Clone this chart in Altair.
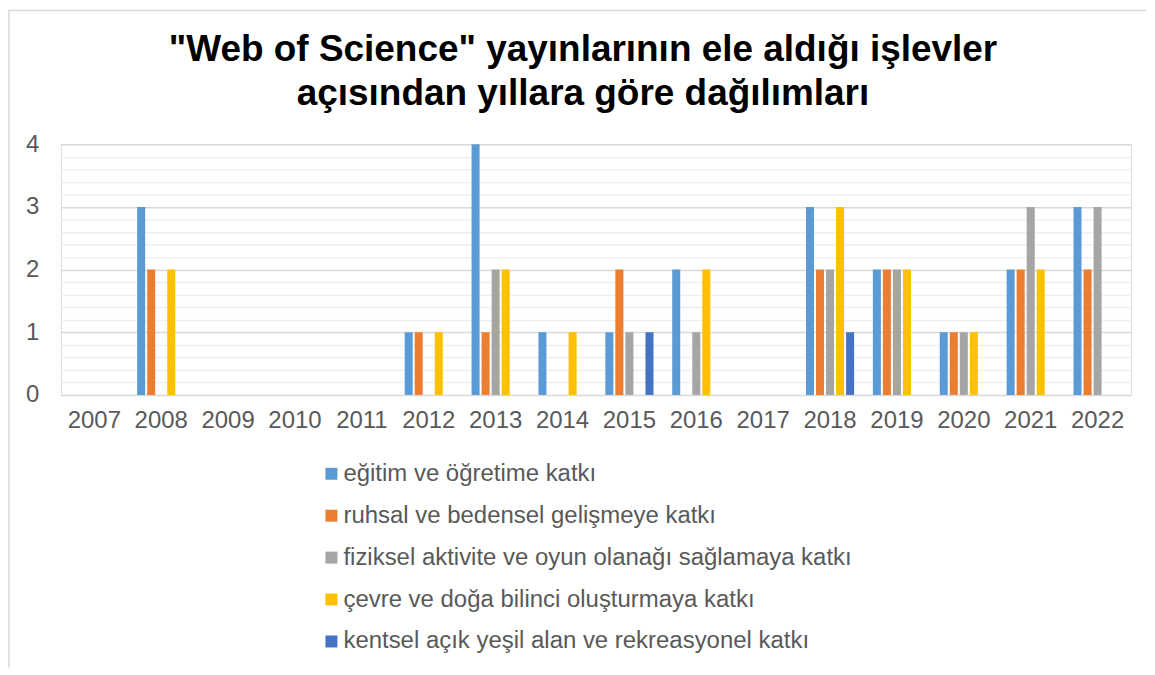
import altair as alt
import pandas as pd

years = [str(y) for y in range(2007, 2023)]
series = [
    "eğitim ve öğretime katkı",
    "ruhsal ve bedensel gelişmeye katkı",
    "fiziksel aktivite ve oyun olanağı sağlamaya katkı",
    "çevre ve doğa bilinci oluşturmaya katkı",
    "kentsel açık yeşil alan ve rekreasyonel katkı",
]
colors = ["#5B9BD5", "#ED7D31", "#A5A5A5", "#FFC000", "#4472C4"]

egitim =    [0, 3, 0, 0, 0, 1, 4, 1, 1, 2, 0, 3, 2, 1, 2, 3]
ruhsal =    [0, 2, 0, 0, 0, 1, 1, 0, 2, 0, 0, 2, 2, 1, 2, 2]
fiziksel =  [0, 0, 0, 0, 0, 0, 2, 0, 1, 1, 0, 2, 2, 1, 3, 3]
cevre =     [0, 2, 0, 0, 0, 1, 2, 1, 0, 2, 0, 3, 2, 1, 2, 0]
kentsel =   [0, 0, 0, 0, 0, 0, 0, 0, 1, 0, 0, 1, 0, 0, 0, 0]

title_lines = ['"Web of Science" yayınlarının ele aldığı işlevler',
               "açısından yıllara göre dağılımları"]

rows = []
for name, vals in zip(series, [egitim, ruhsal, fiziksel, cevre, kentsel]):
    for y, v in zip(years, vals):
        rows.append({"Yıl": y, "Seri": name, "Değer": v})
df = pd.DataFrame(rows)

one = pd.DataFrame({"k": [0]})

W, H = 1072, 251
TEXT = "#595959"
FONT = "Liberation Sans"

grid_vals = [round(i * 0.2, 1) for i in range(21)]

bars = alt.Chart(df).mark_bar().encode(
    x=alt.X("Yıl:N", sort=years,
            scale=alt.Scale(paddingInner=0.25, paddingOuter=0.125),
            axis=alt.Axis(title=None, labelAngle=0, ticks=False, domain=False,
                          labelFontSize=24, labelColor=TEXT, labelFont=FONT,
                          labelPadding=14, grid=False)),
    xOffset=alt.XOffset("Seri:N", sort=series,
                        scale=alt.Scale(domain=series, paddingInner=0.2, paddingOuter=0.1)),
    y=alt.Y("Değer:Q",
            scale=alt.Scale(domain=[0, 4], nice=False),
            axis=alt.Axis(title=None, values=grid_vals, ticks=False, domain=False,
                          labelExpr="datum.value % 1 == 0 ? format(datum.value, 'd') : ''",
                          labelFontSize=24, labelColor=TEXT, labelFont=FONT,
                          labelPadding=22,
                          gridColor={"condition": {"test": "datum.value % 1 == 0", "value": "#d9d9d9"},
                                     "value": "#efefef"},
                          gridWidth=1.5)),
    color=alt.Color("Seri:N", sort=series,
                    scale=alt.Scale(domain=series, range=colors),
                    legend=alt.Legend(title=None, orient="none", legendX=259, legendY=318,
                                      direction="vertical", symbolType="square",
                                      symbolSize=144, symbolStrokeWidth=0, padding=0,
                                      labelFontSize=24, labelColor=TEXT, labelFont=FONT,
                                      labelOffset=0, rowPadding=18, labelLimit=900)),
)

frame_left = alt.Chart(one).mark_rule(color="#d9d9d9", strokeWidth=1.5).encode(
    x=alt.value(-52), y=alt.value(-135), y2=alt.value(H + 273)
)
frame_top = alt.Chart(one).mark_rule(color="#d9d9d9", strokeWidth=1.5).encode(
    x=alt.value(-52), x2=alt.value(W + 15), y=alt.value(-134)
)

title1 = alt.Chart(one).mark_text(
    text=title_lines[0], font=FONT, fontSize=37, fontWeight="bold", color="#000000",
    align="center", baseline="alphabetic",
).encode(x=alt.value(523), y=alt.value(-83))
title2 = alt.Chart(one).mark_text(
    text=title_lines[1], font=FONT, fontSize=37, fontWeight="bold", color="#000000",
    align="center", baseline="alphabetic",
).encode(x=alt.value(523), y=alt.value(-39))

chart = alt.layer(frame_left, frame_top, title1, title2, bars).properties(
    width=W, height=H,
    padding=0,
).configure_view(stroke=None).configure(background="white")

chart.save("out.html", embed_options={"renderer": "svg", "actions": False})
